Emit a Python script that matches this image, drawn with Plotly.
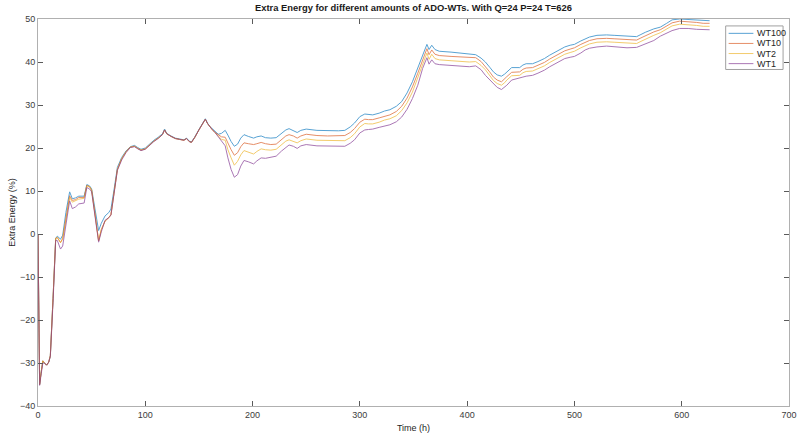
import plotly.graph_objects as go

# ---------------- data ----------------
time_h = [
    0, 1.5, 3, 4.5, 6, 8, 10, 11.5, 14, 16.5,
    18, 21, 23, 26, 29.5, 32, 35, 38, 43, 45.5,
    48, 50, 53, 56.5, 59, 62.5, 66, 68, 71, 74,
    78, 82, 86, 90, 93, 96, 100, 104, 108, 112,
    116, 118, 120, 124, 128, 132, 136, 138.5, 141, 143,
    146, 150, 153, 156, 158, 160, 162, 165, 168, 171,
    174.5, 177, 180, 183, 186, 189, 192, 196, 201, 204,
    208, 212, 217, 222, 227, 231, 234, 238, 241.6, 245,
    250, 260, 270, 280, 286, 291, 295, 300, 304.6, 308,
    312, 318, 323, 328, 334, 339, 344, 349, 354, 358.5,
    362.5, 364.5, 367, 370, 374, 385, 395, 402, 408, 413,
    417, 421, 424.5, 428, 432, 435, 437, 441.5, 449, 452,
    455, 461, 466, 472, 477, 482, 487, 491, 496, 500,
    506, 510, 514, 521, 530, 537, 549, 558, 562, 566,
    574, 580, 586, 591, 598, 606, 614, 620, 626,
]

wt100 = [
    0, -35, -32, -29.5, -30, -30.5, -29.8, -28.3, -15, -1,
    -0.5, -1.2, -0.3, 5, 9.8, 8.2, 8.4, 8.8, 8.8, 11.5,
    11.2, 10.5, 6.0, 0.8, 2.5, 4.2, 5.0, 5.8, 10.5, 15.5,
    17.8, 19.3, 20.3, 20.6, 20.1, 19.7, 20.0, 21.0, 21.8, 22.5,
    23.3, 24.4, 23.4, 22.8, 22.3, 22.1, 21.9, 22.3, 21.6, 21.4,
    22.5, 24.3, 25.7, 26.8, 25.8, 25.0, 24.6, 23.8, 23.2, 23.4,
    24.1, 23.0, 21.5, 20.4, 20.9, 22.3, 23.1, 22.7, 22.3, 22.6,
    22.8, 22.4, 22.3, 22.4, 23.4, 24.2, 24.5, 24.1, 23.6, 24.1,
    24.4, 24.1, 24.0, 24.0, 24.1, 24.9, 25.8, 27.3, 27.9, 27.8,
    27.7, 28.1, 28.6, 28.9, 29.7, 30.8, 32.8, 35.4, 38.5, 41.5,
    44.1, 42.9, 43.9, 42.9, 42.5, 42.3, 42.1, 41.9, 41.7, 40.9,
    40.0, 38.8, 37.7, 37.0, 36.7, 37.2, 37.7, 38.7, 38.7, 39.3,
    39.6, 39.6, 40.1, 40.8, 41.6, 42.3, 43.0, 43.5, 43.9, 44.1,
    44.9, 45.4, 45.8, 46.2, 46.3, 46.2, 46.0, 45.9, 46.4, 46.9,
    47.7, 48.1, 49.0, 49.8, 50.0, 49.9, 49.8, 49.6, 49.6,
]

wt10 = [
    0, -35, -32, -29.5, -30, -30.5, -29.8, -28.3, -15, -1,
    -0.8, -2.0, -1.0, 4.0, 8.9, 7.8, 8.0, 8.5, 8.5, 11.3,
    11.0, 10.2, 5.0, -1.6, 1.0, 3.0, 3.8, 4.5, 9.8, 15.0,
    17.5, 19.1, 20.2, 20.4, 19.9, 19.5, 19.8, 20.8, 21.6, 22.3,
    23.1, 24.2, 23.3, 22.7, 22.2, 22.0, 21.8, 22.2, 21.5, 21.3,
    22.4, 24.2, 25.6, 26.7, 25.7, 24.9, 24.4, 23.6, 23.0, 22.6,
    22.5, 21.0, 19.6, 18.3, 18.9, 20.3, 21.2, 21.0, 20.8, 21.0,
    21.3, 21.0, 20.8, 20.9, 22.0, 22.8, 23.1, 22.8, 22.3, 22.8,
    23.2, 22.9, 22.8, 22.8, 22.9, 23.6, 24.5, 26.0, 26.7, 26.6,
    26.6, 27.0, 27.4, 27.7, 28.5, 29.7, 31.6, 34.2, 37.4, 40.5,
    43.1, 41.7, 42.8, 41.8, 41.5, 41.3, 41.1, 41.0, 41.0, 40.1,
    39.0, 37.7, 36.5, 35.8, 35.4, 36.0, 36.6, 37.6, 37.7, 38.3,
    38.6, 38.7, 39.2, 39.9, 40.7, 41.4, 42.1, 42.6, 43.0, 43.3,
    44.1, 44.6, 45.0, 45.4, 45.5, 45.4, 45.2, 45.1, 45.6, 46.1,
    47.0, 47.5, 48.4, 49.1, 49.5, 49.4, 49.2, 49.0, 49.0,
]

wt2 = [
    0, -35, -32, -29.5, -30, -30.5, -29.8, -28.3, -15, -1,
    -0.8, -2.0, -1.2, 3.8, 8.5, 7.4, 7.7, 8.1, 8.3, 11.2,
    11.0, 10.2, 5.0, -1.6, 1.0, 3.0, 3.8, 4.5, 9.8, 15.0,
    17.5, 19.1, 20.2, 20.4, 19.9, 19.5, 19.8, 20.8, 21.6, 22.3,
    23.1, 24.2, 23.3, 22.7, 22.2, 22.0, 21.8, 22.2, 21.5, 21.3,
    22.4, 24.2, 25.6, 26.7, 25.7, 24.9, 24.4, 23.6, 22.8, 22.0,
    21.8, 19.6, 17.7, 16.0, 16.9, 18.4, 19.4, 19.0, 18.6, 19.2,
    19.8, 19.6, 19.5, 19.7, 20.8, 21.6, 21.9, 21.6, 21.2, 21.7,
    22.1, 21.8, 21.7, 21.7, 21.7, 22.4, 23.3, 24.9, 25.7, 25.6,
    25.6, 26.0, 26.5, 26.8, 27.5, 28.7, 30.5, 33.0, 36.2, 39.5,
    42.1, 40.6, 41.8, 40.8, 40.5, 40.3, 40.1, 40.0, 40.1, 39.2,
    38.2, 36.9, 35.7, 35.0, 34.6, 35.2, 35.8, 36.8, 36.9, 37.5,
    37.8, 37.9, 38.4, 39.1, 39.9, 40.6, 41.3, 41.8, 42.2, 42.5,
    43.3, 43.8, 44.2, 44.6, 44.7, 44.6, 44.4, 44.3, 44.8, 45.3,
    46.2, 46.8, 47.7, 48.4, 48.8, 48.7, 48.5, 48.3, 48.3,
]

wt1 = [
    0, -35.2, -32.5, -30, -30, -30.5, -29.8, -28.5, -16, -1.5,
    -1.5, -3.5, -2.8, 2.0, 7.7, 5.9, 6.3, 7.0, 7.2, 10.8,
    10.5, 9.8, 4.5, -1.9, 0.5, 3.2, 3.8, 4.4, 9.5, 14.8,
    17.2, 18.9, 20.1, 20.3, 19.8, 19.4, 19.7, 20.7, 21.5, 22.2,
    23.1, 24.2, 23.3, 22.7, 22.2, 22.0, 21.8, 22.2, 21.5, 21.3,
    22.4, 24.2, 25.6, 26.7, 25.7, 24.9, 24.4, 23.6, 22.6, 21.5,
    20.5, 17.7, 15.0, 13.2, 13.8, 15.8, 17.1, 16.8, 16.3, 17.0,
    17.7, 17.6, 17.8, 18.1, 19.3, 20.2, 20.7, 20.4, 19.9, 20.5,
    20.8, 20.5, 20.4, 20.4, 20.4, 21.1, 21.9, 23.5, 24.2, 24.3,
    24.4, 24.8, 25.1, 25.4, 26.1, 27.2, 29.0, 31.5, 34.6, 38.5,
    41.0, 39.5, 40.5, 39.6, 39.4, 39.2, 39.0, 38.9, 39.1, 38.2,
    36.9, 35.9, 35.0, 34.1, 33.6, 34.1, 34.6, 35.8, 36.2, 36.5,
    36.7, 36.9, 37.4, 38.1, 38.9, 39.6, 40.3, 40.8, 41.1, 41.3,
    42.1, 42.8, 43.2, 43.5, 43.7, 43.6, 43.3, 43.4, 43.8, 44.3,
    45.0, 46.0, 46.8, 47.3, 47.8, 47.8, 47.6, 47.5, 47.5,
]

series_names = ["WT100", "WT10", "WT2", "WT1"]
series_values = [wt100, wt10, wt2, wt1]
series_colors = ["#0072BD", "#D95319", "#EDB120", "#7E2F8E"]

x_ticks = [0, 100, 200, 300, 400, 500, 600, 700]
y_ticks = [-40, -30, -20, -10, 0, 10, 20, 30, 40, 50]

# ---------------- figure ----------------
W, H = 804, 438
ML, MR, MT, MB = 38, 7, 19, 28
FONT = "Liberation Sans, Arial, Helvetica, sans-serif"
LINE_OPACITY = 0.65

fig = go.Figure()
for name, vals, col in zip(series_names, series_values, series_colors):
    fig.add_trace(go.Scatter(x=time_h, y=vals, mode="lines", name=name,
                             opacity=LINE_OPACITY,
                             line=dict(color=col, width=1), showlegend=False))

axis_common = dict(
    showgrid=False, zeroline=False, showline=True, linecolor="#b0b0b0",
    linewidth=1, mirror="ticks", ticks="inside", ticklen=5, tickwidth=1,
    tickcolor="#5a5a5a", tickfont=dict(family=FONT, size=9, color="#3c3c3c"),
)
fig.update_xaxes(range=[0, 700], tickvals=x_ticks, **axis_common,
                 title=dict(text="Time (h)", font=dict(family=FONT, size=9, color="#262626"),
                            standoff=5))
fig.update_yaxes(range=[-40, 50], tickvals=y_ticks, **axis_common,
                 title=dict(text="Extra Energy (%)", font=dict(family=FONT, size=9, color="#262626"),
                            standoff=2))

# manual MATLAB-like legend (pixel layout converted to paper coords)
pw, ph = W - ML - MR, H - MT - MB
def px(x):
    return (x - ML) / pw
def py(y):
    return (H - MB - y) / ph

shapes = [dict(type="rect", xref="paper", yref="paper", x0=px(733), x1=px(791),
               y0=py(70), y1=py(26), line=dict(color="#a0a0a0", width=1),
               fillcolor="white", layer="above")]
annotations = []
for i, (name, col) in enumerate(zip(series_names, series_colors)):
    yy = 33.5 + i * 10.2
    shapes.append(dict(type="line", xref="paper", yref="paper", x0=px(736), x1=px(761),
                       y0=py(yy), y1=py(yy), opacity=LINE_OPACITY,
                       line=dict(color=col, width=1), layer="above"))
    annotations.append(dict(xref="paper", yref="paper", x=px(763), y=py(yy), text=name,
                            showarrow=False, xanchor="left", yanchor="middle",
                            font=dict(family=FONT, size=9, color="#262626")))

fig.update_layout(
    width=W, height=H,
    margin=dict(l=ML, r=MR, t=MT, b=MB),
    paper_bgcolor="white", plot_bgcolor="white",
    title=dict(text="<b>Extra Energy for different amounts of ADO-WTs. With Q=24 P=24 T=626</b>",
               x=px((ML + W - MR) / 2), xref="paper", xanchor="center",
               y=1 - 7.5 / H, yanchor="middle",
               font=dict(family=FONT, size=9.4, color="#1a1a1a")),
    shapes=shapes, annotations=annotations,
    showlegend=False,
)

fig.write_html("out.html")
